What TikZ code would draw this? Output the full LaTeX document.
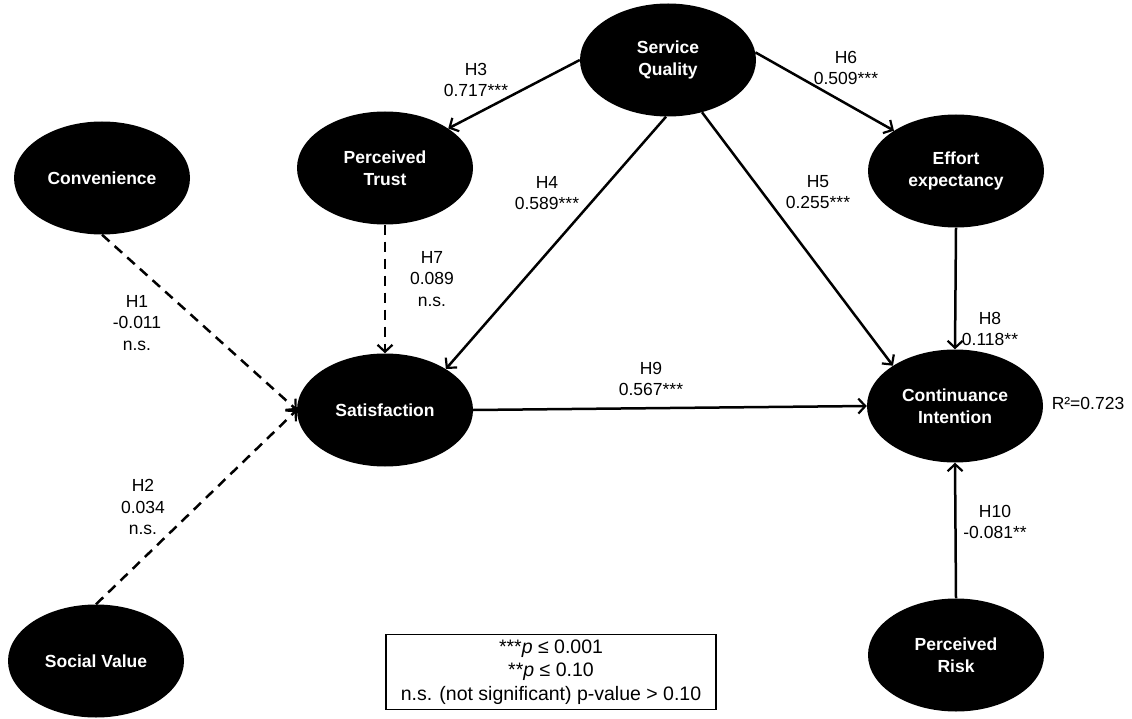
\documentclass[tikz,border=0pt]{standalone}
\usepackage{fontspec}
\setmainfont{Liberation Sans}
\usetikzlibrary{shapes.geometric,arrows.meta}
\begin{document}
\begin{tikzpicture}[x=1pt,y=-1pt,
  lv/.style={ellipse, fill=black, text=white, font=\fontsize{17.5}{21.5}\selectfont\bfseries,
    minimum width=176pt, minimum height=113pt, inner sep=0pt, align=center},
  lab/.style={font=\fontsize{17.5}{21.5}\selectfont, align=center, inner sep=0pt},
  conn/.style={line width=2.5pt, -{Straight Barb[length=7pt,width=15pt,line width=2.2pt]}},
  ns/.style={conn, dash pattern=on 10pt off 7pt}
]
\useasboundingbox (0,0) rectangle (1132,719);
% latent variables
\node[lv] (sq) at (668,60) {Service\\Quality};
\node[lv] (pt) at (385,168) {Perceived\\Trust};
\node[lv] (cv) at (102,178) {Convenience};
\node[lv] (ee) at (956,171) {Effort\\expectancy};
\node[lv] (sat) at (385,410) {Satisfaction};
\node[lv] (ci) at (955,406) {Continuance\\Intention};
\node[lv] (sv) at (96,661) {Social Value};
\node[lv] (pr) at (956,655) {Perceived\\Risk};
% paths
\draw[conn] (sq.180) -- (pt.32);
\draw[conn] (sq.5) -- (ee.147);
\draw[conn] (sq.268) -- (sat.34);
\draw[conn] (sq.303) -- (ci.147);
\draw[conn] (ee.south) -- (ci.north);
\draw[conn] (pr.north) -- (ci.south);
\draw[conn] (sat.east) -- (ci.west);
\draw[ns] (pt.south) -- (sat.north);
\draw[ns] (cv.south) -- (sat.west);
\draw[ns] (sv.north) -- (sat.west);
% labels
\node[lab] (l3) at (476,80) {H3\\0.717***};
\node[lab] (l6) at (846,68) {H6\\0.509***};
\node[lab] (l4) at (547,193) {H4\\0.589***};
\node[lab] (l5) at (818,192) {H5\\0.255***};
\node[lab] (l7) at (432,279) {H7\\0.089\\n.s.};
\node[lab] (l1) at (137,323) {H1\\-0.011\\n.s.};
\node[lab] (l2) at (143,507) {H2\\0.034\\n.s.};
\node[lab] (l9) at (651,379) {H9\\0.567***};
\node[lab] (l8) at (990,329) {H8\\0.118**};
\node[lab] (l10) at (995,522) {H10\\-0.081**};
\node[lab] (r2) at (1088,403) {R²=0.723};
% legend
\node[draw, line width=1.2pt, minimum width=330pt, minimum height=75pt, align=center,
  font=\fontsize{19.5}{23.5}\selectfont, inner sep=0pt] (leg) at (551,672)
  {***\textit{p} ≤ 0.001\\**\textit{p} ≤ 0.10\\n.s. (not significant) p-value > 0.10};
\end{tikzpicture}
\end{document}
